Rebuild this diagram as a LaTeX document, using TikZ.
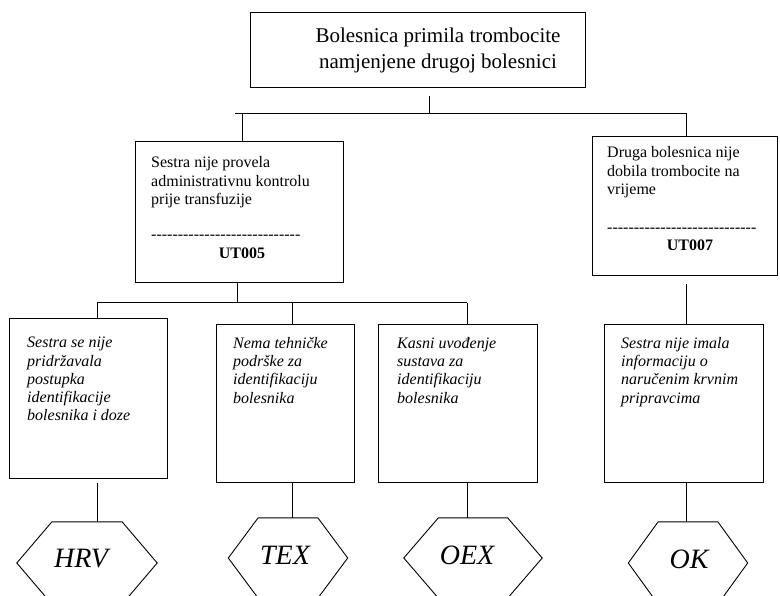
\documentclass[tikz,border=0pt]{standalone}
\usepackage{fontspec}
\setmainfont{Liberation Serif}
\usetikzlibrary{calc}

\newcommand{\dashrow}{\foreach \k in {1,...,28}{-}}

\begin{document}
\begin{tikzpicture}[x=1pt, y=-1pt,
  box/.style={draw, line width=1.3pt, inner sep=0pt, anchor=north west},
  boxtext/.style={inner sep=0pt, anchor=north west, align=left, font=\fontsize{16}{18.8}\selectfont},
  causetext/.style={inner sep=0pt, anchor=north west, align=left, font=\fontsize{16}{18.3}\selectfont\itshape},
  code/.style={inner sep=0pt, anchor=base, font=\fontsize{16}{18}\selectfont\bfseries},
  hexnode/.style={inner sep=0pt, font=\fontsize{28}{30}\selectfont\itshape},
  hexlabel/.style={inner sep=0pt, font=\fontsize{28}{30}\selectfont\itshape},
  wire/.style={line width=1pt},
]
\useasboundingbox (0,0) rectangle (780,596);

% top event
\node[box, minimum width=335pt, minimum height=75pt] (top) at (250,12) {};
\node[align=center, inner sep=0pt, font=\fontsize{21}{26}\selectfont] (topText) at (438,50) {Bolesnica primila trombocite\\namjenjene drugoj bolesnici};

% middle level
\node[box, minimum width=208pt, minimum height=141pt] (ml) at (135,141) {};
\node[boxtext] (mlText) at (151,156) {Sestra nije provela\\administrativnu kontrolu\\prije transfuzije};
\node[boxtext, anchor=base west] (mlDash) at (151,240) {\dashrow};
\node[code] (mlCode) at (242,259) {UT005};

\node[box, minimum width=185pt, minimum height=139pt] (mr) at (592,136) {};
\node[boxtext] (mrText) at (607,146) {Druga bolesnica nije\\dobila trombocite na\\vrijeme};
\node[boxtext, anchor=base west] (mrDash) at (607,233) {\dashrow};
\node[code] (mrCode) at (690,251) {UT007};

% causes
\node[box, minimum width=158pt, minimum height=160pt] (b1) at (9,318) {};
\node[causetext] (b1Text) at (27,337) {Sestra se nije\\pridržavala\\postupka\\identifikacije\\bolesnika i doze};
\node[box, minimum width=138pt, minimum height=158pt] (b2) at (216,324) {};
\node[causetext] (b2Text) at (233,337) {Nema tehničke\\podrške za\\identifikaciju\\bolesnika};
\node[box, minimum width=159pt, minimum height=158pt] (b3) at (378,324) {};
\node[causetext] (b3Text) at (397,337) {Kasni uvođenje\\sustava za\\identifikaciju\\bolesnika};
\node[box, minimum width=159pt, minimum height=158pt] (b4) at (604,324) {};
\node[causetext] (b4Text) at (621,337) {Sestra nije imala\\informaciju o\\naručenim krvnim\\pripravcima};

% end states
\node[hexnode, minimum width=140pt, minimum height=82pt] (hrv) at (87,563) {};
\node[hexnode, minimum width=119pt, minimum height=80pt] (tex) at (288,558) {};
\node[hexnode, minimum width=138pt, minimum height=80pt] (oex) at (473,558) {};
\node[hexnode, minimum width=119pt, minimum height=82pt] (ok) at (688,563) {};
\foreach \h in {hrv,tex,oex,ok}
  \draw[line width=0.9pt] ($(\h.north west)!.25!(\h.north east)$) -- ($(\h.north west)!.75!(\h.north east)$)
    -- (\h.east) -- ($(\h.south west)!.75!(\h.south east)$) -- ($(\h.south west)!.25!(\h.south east)$)
    -- (\h.west) -- cycle;
\node[hexlabel] (hrvText) at (81,559) {HRV};
\node[hexlabel] (texText) at (285,555) {TEX};
\node[hexlabel] (oexText) at (467,555) {OEX};
\node[hexlabel] (okText) at (689,559) {OK};

% tree lines
\coordinate (j0) at (429,114);
\coordinate (jl) at (242,114);
\coordinate (jr) at (686,114);
\coordinate (barL) at (235,114);
\draw[wire, shorten <=8pt] (top.south -| j0) -- (j0);
\draw[wire] (barL) -- (jr) -- (jr |- mr.north);
\draw[wire] (jl) -- (jl |- ml.north);

\coordinate (k0) at (237,303);
\coordinate (kl) at (97,303);
\coordinate (km) at (292,303);
\coordinate (kr) at (467,303);
\draw[wire] (ml.south -| k0) -- (k0);
\draw[wire] (kl) -- (kr);
\draw[wire] (kl) -- (kl |- b1.north);
\draw[wire] (km) -- (km |- b2.north);
\draw[wire] (kr) -- (kr |- b3.north);
\draw[wire, shorten <=8pt] (mr.south -| jr) -- (jr |- b4.north);

\draw[wire, shorten <=4pt] (b1.south -| kl) -- (kl |- hrv.north);
\draw[wire] (b2.south -| km) -- (km |- tex.north);
\draw[wire] (b3.south -| kr) -- (kr |- oex.north);
\draw[wire] (b4.south -| jr) -- (jr |- ok.north);
\end{tikzpicture}
\end{document}
